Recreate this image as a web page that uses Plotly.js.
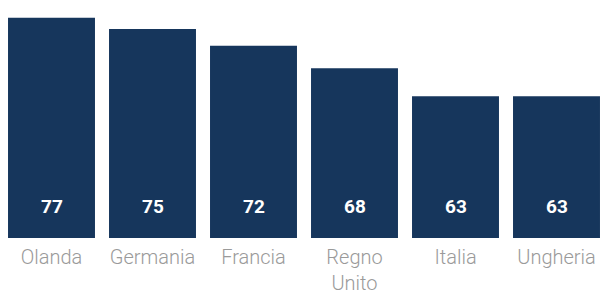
<!DOCTYPE html>
<html>
<head>
<meta charset="utf-8">
<script src="https://cdn.plot.ly/plotly-3.0.1.min.js"></script>
<style>html,body{margin:0;padding:0;background:#fff;}#chart{width:601px;height:293px;}</style>
</head>
<body>
<div id="chart"></div>
<script>
var categories = ["Olanda", "Germania", "Francia", "Regno<br>Unito", "Italia", "Ungheria"];
var values = [77, 75, 72, 68, 63, 63];
var valueLabels = ["77", "75", "72", "68", "63", "63"];

var idx = categories.map(function (c, i) { return i; });

var trace = {
  type: "bar",
  x: idx,
  y: values,
  marker: { color: "#16365c" },
  hoverinfo: "none"
};

var annotations = idx.map(function (i) {
  return {
    x: i, y: 0, xref: "x", yref: "paper",
    yanchor: "bottom", xanchor: "center",
    yshift: 18,
    text: "<b>" + valueLabels[i] + "</b>",
    showarrow: false,
    font: { family: "Roboto, sans-serif", size: 19, color: "#ffffff" }
  };
});

var layout = {
  width: 601, height: 293,
  margin: { l: 0, r: 0, t: 0, b: 55, pad: 0 },
  paper_bgcolor: "#ffffff", plot_bgcolor: "#ffffff",
  bargap: 0.139,
  showlegend: false,
  xaxis: {
    range: [-0.5099, 5.4406],
    tickmode: "array",
    tickvals: idx,
    ticktext: categories,
    ticks: "", showgrid: false, zeroline: false, showline: false,
    ticklabelstandoff: 5,
    tickfont: { family: "Roboto, sans-serif", size: 20, color: "#9a9a9a", weight: 300 },
    fixedrange: true
  },
  yaxis: {
    range: [37.79, 80.14],
    visible: false, showgrid: false, zeroline: false,
    fixedrange: true
  },
  annotations: annotations
};

Plotly.newPlot("chart", [trace], layout, { displayModeBar: false, staticPlot: true });
</script>
</body>
</html>
